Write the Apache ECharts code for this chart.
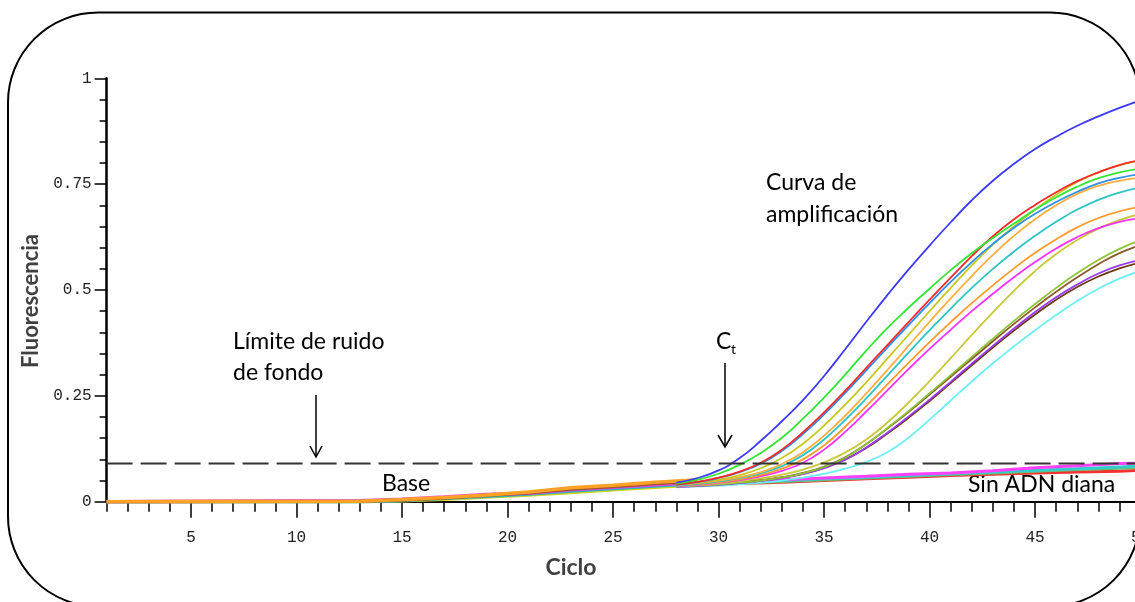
<!DOCTYPE html>
<html><head><meta charset="utf-8">
<script src="https://cdn.jsdelivr.net/npm/echarts@6/dist/echarts.min.js"></script>
<style>html,body{margin:0;padding:0;background:#fff}#c{width:1135px;height:602px}</style>
</head><body><div id="c"></div><script>
// ---- data ----
const xMajorTicks = [5,10,15,20,25,30,35,40,45,50];
const xAllTicks = [1,2,3,4,5,6,7,8,9,10,11,12,13,14,15,16,17,18,19,20,21,22,23,24,25,26,27,28,29,30,31,32,33,34,35,36,37,38,39,40,41,42,43,44,45,46,47,48,49,50];
const threshold = 0.09;

// baseline bundle (all wells, before amplification)
const baseCycles = [1, 13, 15, 17, 19, 21, 23, 25, 27, 29];
const baseOrange  = [0, 0.001, 0.005, 0.010, 0.016, 0.023, 0.033, 0.039, 0.046, 0.052];
const baseBrown   = [0, 0.001, 0.004, 0.009, 0.015, 0.021, 0.030, 0.036, 0.043, 0.049];
const baseMagenta = [0, 0.002, 0.006, 0.011, 0.017, 0.020, 0.028, 0.034, 0.040, 0.046];
const baseCyan    = [0, 0.000, 0.003, 0.008, 0.013, 0.018, 0.025, 0.031, 0.037, 0.043];
const baseYellow  = [0, 0.000, 0.002, 0.006, 0.011, 0.016, 0.022, 0.028, 0.034, 0.040];

// amplification curves, cycles 28..50
const ampCycles = [28,29,30,31,32,33,34,35,36,37,38,39,40,41,42,43,44,45,46,47,48,49,50];
const ampBlue       = [.045,.056,.074,.103,.144,.190,.240,.297,.360,.425,.488,.548,.605,.660,.712,.758,.798,.833,.862,.888,.910,.930,.948];
const ampGreen      = [.043,.052,.066,.087,.115,.151,.196,.246,.300,.357,.410,.458,.503,.547,.587,.623,.657,.690,.719,.744,.764,.778,.787];
const ampRed        = [.041,.047,.057,.071,.092,.123,.164,.211,.262,.316,.370,.424,.477,.529,.580,.627,.667,.701,.731,.757,.778,.795,.807];
const ampDodger     = [.040,.046,.056,.070,.090,.120,.160,.206,.257,.310,.364,.417,.469,.519,.566,.609,.647,.680,.708,.732,.752,.765,.774];
const ampYellow1    = [.040,.045,.052,.063,.079,.103,.137,.180,.229,.282,.338,.394,.450,.505,.558,.607,.650,.690,.725,.755,.778,.795,.805];
const ampOrange1    = [.040,.044,.050,.058,.070,.089,.117,.156,.203,.256,.311,.368,.425,.480,.533,.583,.628,.667,.700,.727,.746,.758,.765];
const ampCyan       = [.038,.042,.048,.056,.067,.084,.110,.147,.193,.244,.298,.352,.405,.456,.505,.550,.591,.628,.661,.690,.713,.730,.742];
const ampOrange2    = [.038,.041,.046,.053,.063,.078,.100,.133,.177,.226,.277,.328,.377,.424,.469,.511,.551,.588,.620,.648,.670,.686,.697];
const ampMagenta    = [.037,.040,.045,.051,.060,.073,.092,.123,.165,.213,.263,.313,.361,.406,.450,.491,.530,.566,.598,.625,.646,.661,.670];
const ampYellow2    = [.036,.039,.043,.048,.055,.064,.076,.093,.116,.147,.187,.234,.285,.339,.394,.447,.498,.545,.585,.618,.645,.665,.680];
const ampYellowGreen= [.036,.038,.041,.045,.050,.057,.067,.082,.104,.136,.174,.214,.256,.299,.342,.385,.427,.467,.505,.540,.571,.597,.618];
const ampBrown1     = [.037,.039,.042,.046,.051,.058,.068,.083,.105,.136,.173,.212,.253,.295,.337,.379,.420,.459,.496,.530,.561,.587,.606];
const ampPurple     = [.035,.037,.040,.044,.049,.056,.065,.079,.099,.128,.163,.201,.241,.283,.326,.368,.409,.448,.483,.513,.539,.558,.571];
const ampBrown2     = [.036,.038,.041,.045,.050,.057,.066,.080,.100,.127,.161,.198,.238,.280,.322,.364,.404,.442,.477,.507,.532,.551,.565];
const ampLightCyan  = [.034,.036,.038,.041,.045,.050,.057,.066,.078,.094,.117,.151,.194,.239,.284,.327,.367,.405,.441,.474,.503,.527,.545];

// no-template controls ("Sin ADN diana")
const ntCycles  = [28, 31, 33, 35, 37, 39, 41, 43, 45, 47, 49, 50];
const ntMagenta = [.043,.048,.052,.056,.060,.065,.068,.073,.080,.085,.090,.091];
const ntCyan    = [.042,.046,.050,.054,.058,.062,.066,.070,.074,.078,.082,.084];
const ntGreen   = [.041,.045,.048,.052,.056,.060,.064,.068,.072,.076,.079,.081];
const ntRed     = [.040,.043,.046,.050,.054,.058,.062,.065,.068,.070,.072,.074];

// ---- build chart ----
const zip = (xs, ys) => xs.map((x, i) => [x, ys[i]]);
const series = [];
function addLine(xs, ys, color, width, z, smooth) {
  series.push({
    type: 'line', data: zip(xs, ys), showSymbol: false, silent: true,
    smooth: smooth, z: z,
    lineStyle: { color: color, width: width }, itemStyle: { color: color }
  });
}
addLine(baseCycles, baseYellow, '#d6d21e', 3.5, 2, false);
addLine(baseCycles, baseCyan, '#22b6c4', 3.5, 2, false);
addLine(baseCycles, baseMagenta, '#f23cf2', 3.5, 2, false);
addLine(baseCycles, baseBrown, '#9c5a2a', 3.5, 2, false);
addLine(baseCycles, baseOrange, '#ffa126', 3.5, 2, false);

addLine(ntCycles, ntRed, '#f53030', 3, 3, false);
addLine(ntCycles, ntGreen, '#6cc06c', 3, 3, false);
addLine(ntCycles, ntCyan, '#33cccc', 3, 3, false);
addLine(ntCycles, ntMagenta, '#ff40ff', 3, 3, false);

const amp = [
  [ampLightCyan, '#6cf0f5'], [ampBrown2, '#6b3a10'], [ampPurple, '#9a3af0'],
  [ampBrown1, '#8a5a2a'], [ampYellowGreen, '#8fc43a'], [ampYellow2, '#c8c83a'],
  [ampMagenta, '#f533f5'], [ampOrange2, '#ff9a2e'], [ampCyan, '#2ec4c4'],
  [ampOrange1, '#ffae40'], [ampYellow1, '#c8c820'], [ampDodger, '#2e8fe8'],
  [ampRed, '#f52a2a'], [ampGreen, '#33e633'], [ampBlue, '#3b3bf5']
];
amp.forEach(a => addLine(ampCycles, a[0], a[1], 1.8, 4, 0.5));

series.push({
  type: 'line', data: [[1, threshold], [50, threshold]], showSymbol: false, silent: true, z: 5,
  lineStyle: { color: '#333', width: 2, type: [26, 8] }
});

const tickFont = { fontFamily: 'Liberation Mono', fontSize: 16, color: '#222' };
const chart = echarts.init(document.getElementById('c'), null, { renderer: 'canvas' });
chart.setOption({
  animation: false,
  backgroundColor: '#fff',
  grid: { left: 106.6, top: 78.3, width: 1034, height: 423.4, outerBoundsMode: 'none', containLabel: false },
  xAxis: [
    { type: 'value', min: 1, max: 50, position: 'bottom', offset: 0,
      axisLine: { show: true, lineStyle: { color: '#000', width: 2 } },
      axisTick: { show: true, customValues: xAllTicks, length: 10, lineStyle: { color: '#000', width: 1.5 } },
      axisLabel: { show: false }, splitLine: { show: false } },
    { type: 'value', min: 1, max: 50, position: 'bottom', offset: 0,
      axisLine: { show: false },
      axisTick: { show: true, customValues: xMajorTicks, length: 16, lineStyle: { color: '#000', width: 1.5 } },
      axisLabel: Object.assign({ show: true, customValues: xMajorTicks, margin: 28 }, tickFont),
      splitLine: { show: false } }
  ],
  yAxis: {
    type: 'value', min: 0, max: 1, interval: 0.25,
    axisLine: { show: true, lineStyle: { color: '#000', width: 2.5 } },
    axisTick: { show: true, length: 12, lineStyle: { color: '#000', width: 1.5 } },
    minorTick: { show: true, splitNumber: 5, length: 7, lineStyle: { color: '#000', width: 1.5 } },
    axisLabel: Object.assign({ margin: 15 }, tickFont),
    splitLine: { show: false }
  },
  series: series,
  graphic: [
    { type: 'rect', silent: true, z: 1, shape: { x: 8, y: 12.5, width: 1132, height: 594, r: 90 },
      style: { fill: 'none', stroke: '#000', lineWidth: 2 } },
    { type: 'text', x: 31, y: 301, rotation: Math.PI / 2, silent: true,
      style: { text: 'Fluorescencia', font: 'bold 22px Lato', fill: '#404040', align: 'center', verticalAlign: 'middle' } },
    { type: 'text', x: 571, y: 568, silent: true,
      style: { text: 'Ciclo', font: 'bold 23px Lato', fill: '#404040', align: 'center', verticalAlign: 'middle' } },
    { type: 'text', x: 233, y: 326, silent: true,
      style: { text: 'Límite de ruido\nde fondo', font: '23px Lato', lineHeight: 31, fill: '#000', verticalAlign: 'top' } },
    { type: 'text', x: 766, y: 167, silent: true,
      style: { text: 'Curva de\namplificación', font: '23px Lato', lineHeight: 32, fill: '#000', verticalAlign: 'top' } },
    { type: 'text', x: 382, y: 468.5, silent: true,
      style: { text: 'Base', font: '23px Lato', lineHeight: 31, fill: '#000', verticalAlign: 'top' } },
    { type: 'text', x: 968, y: 469.5, silent: true,
      style: { text: 'Sin ADN diana', font: '23px Lato', lineHeight: 31, fill: '#000', verticalAlign: 'top' } },
    { type: 'text', x: 716, y: 326, silent: true,
      style: { text: 'C', font: '23px Lato', lineHeight: 31, fill: '#000', verticalAlign: 'top' } },
    { type: 'text', x: 731, y: 349, silent: true,
      style: { text: 't', font: '14px Lato', fill: '#000', verticalAlign: 'middle' } },
    { type: 'line', silent: true, shape: { x1: 316, y1: 395, x2: 316, y2: 457 }, style: { stroke: '#000', lineWidth: 1.5 } },
    { type: 'polyline', silent: true, shape: { points: [[310, 446], [316, 457], [322, 446]] }, style: { stroke: '#000', lineWidth: 1.5, fill: 'none' } },
    { type: 'line', silent: true, shape: { x1: 725, y1: 363, x2: 725, y2: 447 }, style: { stroke: '#000', lineWidth: 1.5 } },
    { type: 'polyline', silent: true, shape: { points: [[718, 435], [725, 447], [732, 435]] }, style: { stroke: '#000', lineWidth: 1.5, fill: 'none' } }
  ]
});
</script></body></html>
